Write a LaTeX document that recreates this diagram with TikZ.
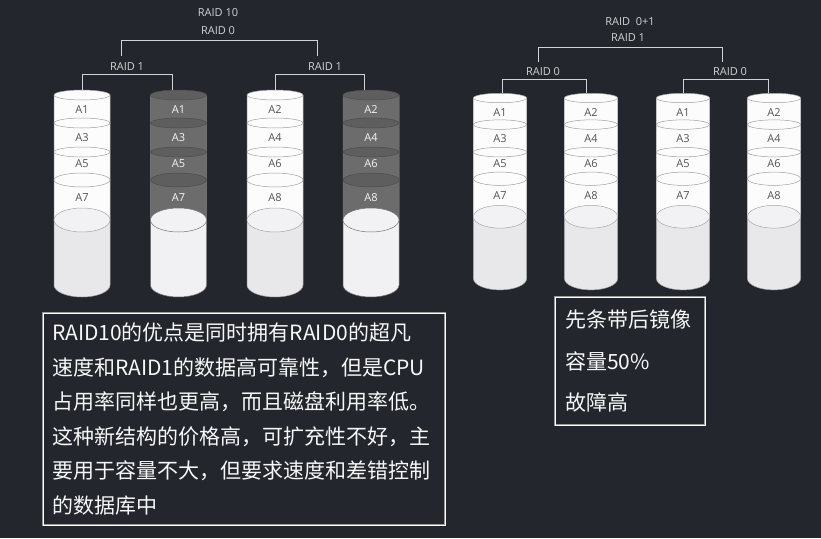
\documentclass[tikz,border=0pt]{standalone}
\usepackage{fontspec}
\setmainfont{Open Sans}
\newfontfamily\cjk{Noto Sans CJK SC}
\usetikzlibrary{positioning}

\definecolor{bgdark}{HTML}{23262D}
\definecolor{linegray}{HTML}{D2D2D2}
\definecolor{diskwhite}{HTML}{FCFCFC}
\definecolor{disklow}{HTML}{E8E8EB}
\definecolor{diskdark}{HTML}{6C6C6C}
\definecolor{ringdark}{HTML}{5E5E5E}

% one cylinder: name, x, y of top ring, scale, look, four labels
\newcommand{\raiddisk}[9]{%
  \begin{scope}[shift={(#2,-#3)}, scale=#4, #5]
    \coordinate (#1) at (0,5);
    \fill[disk low] (-28,0) -- (-28,-190) arc[start angle=180, end angle=360, x radius=28, y radius=12] -- (28,0) -- cycle;
    \fill[disk top] (-28,0) rectangle (28,-125);
    \draw[disk edge] (-28,0) -- (-28,-190) arc[start angle=180, end angle=360, x radius=28, y radius=12] -- (28,0);
    \draw[disk ring] (0,0) ellipse[x radius=28, y radius=5];
    \draw[disk ring] (0,-28) ellipse[x radius=28, y radius=5];
    \draw[disk ring] (0,-57) ellipse[x radius=28, y radius=5];
    \draw[disk ring] (0,-85) ellipse[x radius=28, y radius=7];
    \draw[disk edge, fill=disklow!55!white] (0,-125) ellipse[x radius=28, y radius=12];
    \node[disk text] (#1a) at (0,-15) {#6};
    \node[disk text] (#1b) at (0,-43) {#7};
    \node[disk text] (#1c) at (0,-69) {#8};
    \node[disk text] (#1d) at (0,-103) {#9};
  \end{scope}}

\begin{document}
\begin{tikzpicture}[x=1pt, y=1pt,
    every node/.style={font=\fontsize{11}{13}\selectfont},
    tag/.style={text=linegray},
    link/.style={draw=linegray, line width=0.9pt},
    notebox/.style={draw=gray!80, double=white, double distance=0.7pt, line width=0.5pt, text=white!94!gray, align=left},
    whitedisk/.style={disk top/.style={fill=diskwhite}, disk low/.style={fill=disklow},
      disk edge/.style={draw=gray!70, line width=0.5pt},
      disk ring/.style={fill=diskwhite, draw=gray!75, line width=0.5pt},
      disk text/.style={text=gray!65!black}},
    graydisk/.style={disk top/.style={fill=diskdark}, disk low/.style={fill=disklow!60!white},
      disk edge/.style={draw=black!55, line width=0.5pt},
      disk ring/.style={fill=ringdark, draw=black!70, line width=0.5pt},
      disk text/.style={text=white!92!gray}}]
  \fill[bgdark] (0,0) rectangle (821,-538);
  \useasboundingbox (0,0) rectangle (821,-538);

  % RAID 10
  \raiddisk{l1}{82}{95}{1}{whitedisk}{A1}{A3}{A5}{A7}
  \raiddisk{l2}{178.5}{95}{1}{graydisk}{A1}{A3}{A5}{A7}
  \raiddisk{l3}{275}{95}{1}{whitedisk}{A2}{A4}{A6}{A8}
  \raiddisk{l4}{371}{95}{1}{graydisk}{A2}{A4}{A6}{A8}

  \node[tag] (raid10) at (218,-13) {RAID 10};
  \node[tag] (raid0top) at (218,-31) {RAID 0};
  \node[tag] (raid1a) at (127,-67) {RAID 1};
  \node[tag] (raid1b) at (325,-67) {RAID 1};

  \draw[link] (l1) |- (raid1a.south) -| ([xshift=-6]l2);
  \draw[link] (l3) |- (raid1b.south) -| ([xshift=-7]l4);
  \draw[link] ([shift={(-6,4)}]raid1a.north) |- ([yshift=-2]raid0top.south) -| ([shift={(-8,4)}]raid1b.north);

  % RAID 0+1
  \raiddisk{r1}{500}{98}{0.95}{whitedisk}{A1}{A3}{A5}{A7}
  \raiddisk{r2}{591}{98}{0.95}{whitedisk}{A2}{A4}{A6}{A8}
  \raiddisk{r3}{683}{98}{0.95}{whitedisk}{A1}{A3}{A5}{A7}
  \raiddisk{r4}{774}{98}{0.95}{whitedisk}{A2}{A4}{A6}{A8}

  \node[tag] (raid01) at (630,-22) {RAID\ \ 0+1};
  \node[tag] (raid1top) at (628,-38) {RAID 1};
  \node[tag] (raid0a) at (543,-72) {RAID 0};
  \node[tag] (raid0b) at (730,-72) {RAID 0};

  \draw[link] ([xshift=2]r1) |- (raid0a.south) -| ([xshift=-5]r2);
  \draw[link] (r3) |- (raid0b.south) -| ([xshift=-6]r4);
  \draw[link] ([shift={(-5,2)}]raid0a.north) |- ([yshift=-2]raid1top.south) -| ([shift={(-8,2)}]raid0b.north);

  \node[notebox, minimum width=402, minimum height=212, text width=384, inner xsep=9,
    font=\cjk\fontsize{21}{34.5}\selectfont] (note10) at (244,-419)
    {RAID10的优点是同时拥有RAID0的超凡\\
     速度和RAID1的数据高可靠性，但是CPU\\
     占用率同样也更高，而且磁盘利用率低。\\
     这种新结构的价格高，可扩充性不好，主\\
     要用于容量不大，但要求速度和差错控制\\
     的数据库中};
  \node[notebox, minimum width=150, minimum height=128, text width=130, inner xsep=10,
    font=\cjk\fontsize{21}{41.5}\selectfont] (note01) at (630,-361)
    {先条带后镜像\\ 容量50\%\\ 故障高};
\end{tikzpicture}
\end{document}
